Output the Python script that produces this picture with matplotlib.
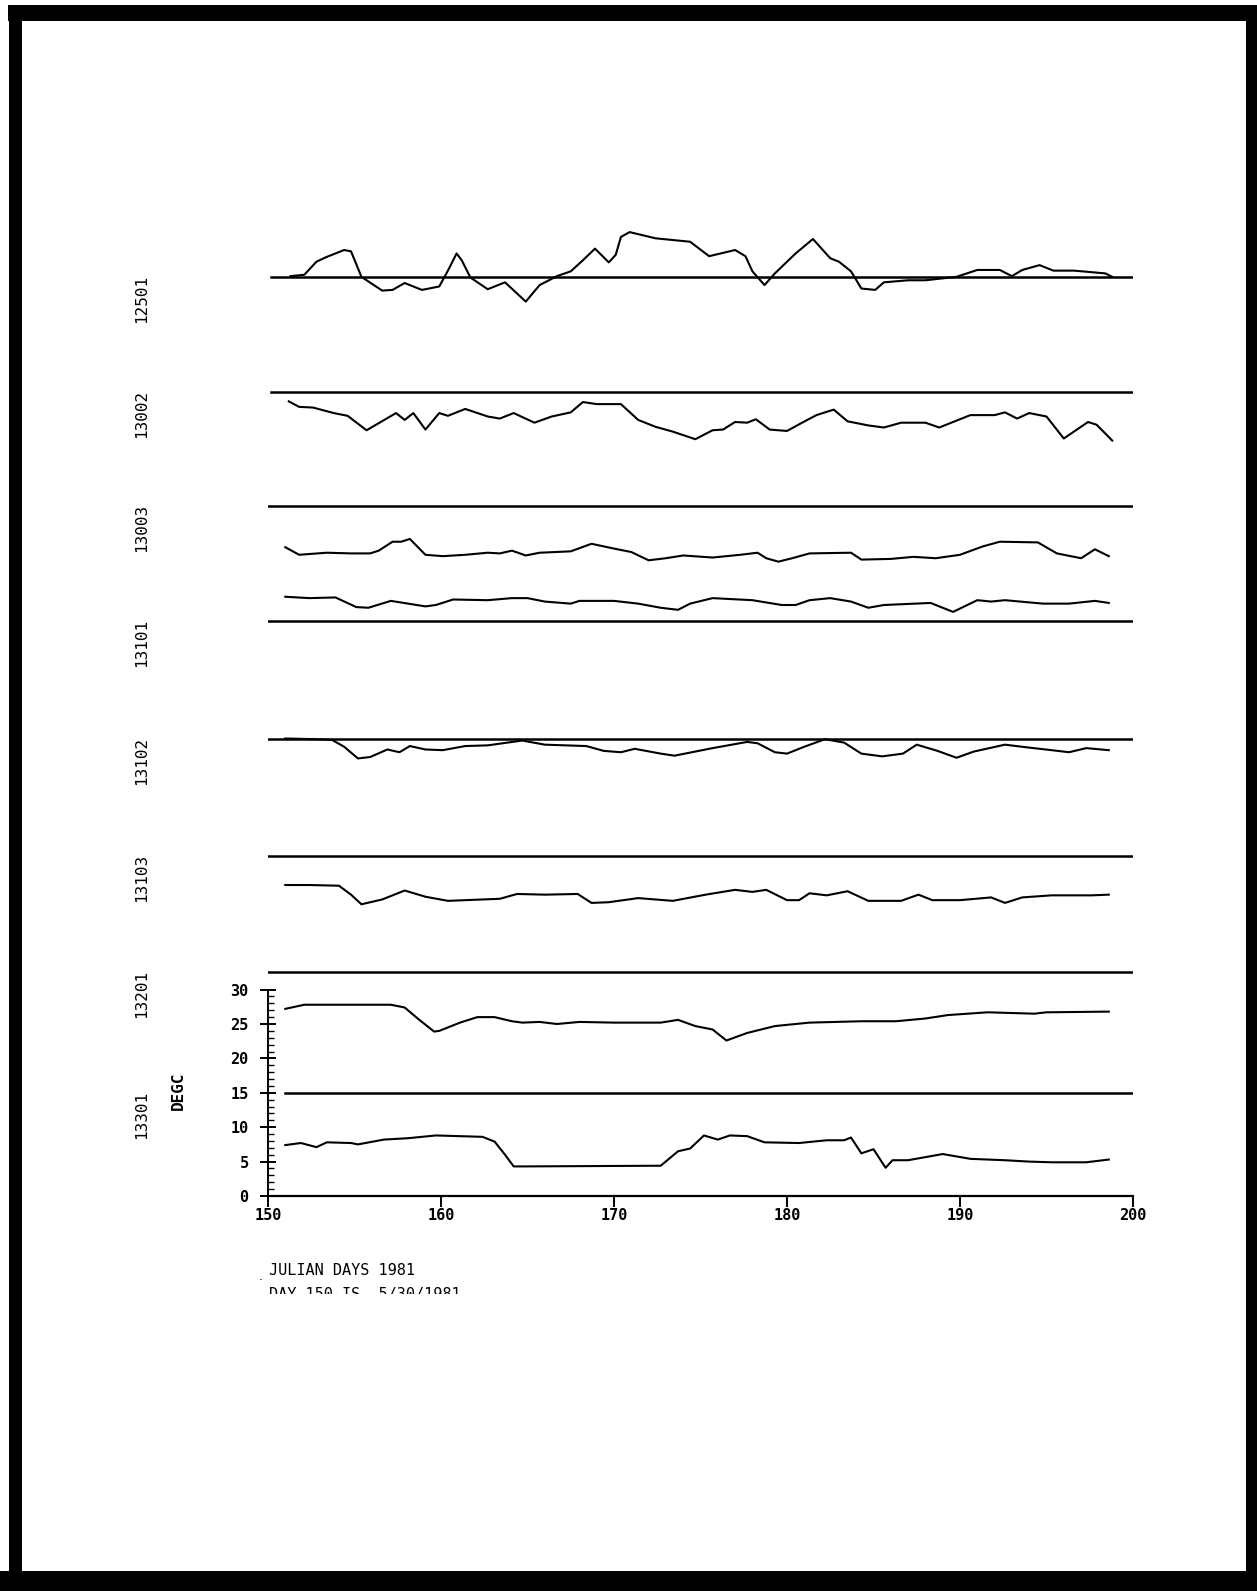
import numpy as np
import matplotlib.pyplot as plt
from matplotlib.patches import Rectangle
from matplotlib.transforms import blended_transform_factory

# station names, top to bottom, and the level of each reference line (DEGC axis units)
stations = ["12501", "13002", "13003", "13101", "13102", "13103", "13201", "13301"]
ref_levels = [133.6, 116.9, 100.3, 83.6, 66.4, 49.4, 32.5, 15.0]
ref_start = [150.2, 150.2, 149.9, 149.9, 150.0, 150.0, 150.0, 151.0]

days_12501 = [151.3, 152.1, 152.8, 153.4, 154.4, 154.8, 155.4, 156.6, 157.2, 157.9, 158.9, 159.9,
              160.4, 160.9, 161.2, 161.7, 162.7, 163.7, 164.9, 165.7, 166.7, 167.5, 168.2, 168.9,
              169.7, 170.1, 170.4, 170.9, 172.4, 174.4, 175.5, 177.0, 177.6, 178.0, 178.7, 179.3,
              180.5, 181.5, 182.5, 183.0, 183.7, 184.3, 185.1, 185.6, 187.0, 188.0, 189.8, 191.0,
              192.3, 193.0, 193.6, 194.6, 195.4, 196.6, 198.4, 198.8]
temp_12501 = [133.7, 133.9, 135.8, 136.5, 137.5, 137.3, 133.6, 131.6, 131.7, 132.7, 131.7, 132.2,
              134.5, 137.0, 136.0, 133.5, 131.8, 132.8, 130.0, 132.4, 133.7, 134.4, 136.0, 137.7,
              135.7, 136.8, 139.4, 140.1, 139.2, 138.7, 136.6, 137.5, 136.6, 134.4, 132.4, 134.1,
              137.0, 139.1, 136.3, 135.8, 134.4, 131.9, 131.7, 132.8, 133.1, 133.1, 133.6, 134.6,
              134.6, 133.7, 134.6, 135.3, 134.5, 134.5, 134.1, 133.6]

days_13002 = [151.2, 151.8, 152.6, 153.8, 154.6, 155.7, 157.4, 157.9, 158.4, 159.1, 159.9, 160.4,
              161.4, 162.7, 163.4, 164.2, 165.4, 166.4, 167.5, 168.2, 169.0, 170.4, 171.4, 172.4,
              173.4, 174.7, 175.7, 176.3, 177.0, 177.7, 178.2, 179.0, 180.0, 180.8, 181.7, 182.7,
              183.5, 184.7, 185.6, 186.6, 188.0, 188.8, 190.6, 192.0, 192.6, 193.3, 194.0, 195.0,
              196.0, 197.4, 197.9, 198.8]
temp_13002 = [115.5, 114.7, 114.6, 113.8, 113.4, 111.3, 113.8, 112.8, 113.8, 111.4, 113.8, 113.4,
              114.4, 113.3, 113.0, 113.8, 112.4, 113.3, 113.9, 115.4, 115.1, 115.1, 112.8, 111.8,
              111.1, 110.0, 111.3, 111.4, 112.5, 112.4, 112.9, 111.4, 111.2, 112.3, 113.5, 114.3,
              112.6, 112.0, 111.7, 112.4, 112.4, 111.7, 113.5, 113.5, 113.9, 113.0, 113.8, 113.3,
              110.1, 112.5, 112.1, 109.8]

days_13003 = [151.0, 151.8, 153.4, 154.8, 155.9, 156.4, 157.2, 157.7, 158.2, 159.1, 160.1, 161.4,
              162.7, 163.4, 164.1, 164.9, 165.7, 167.5, 168.7, 170.0, 171.0, 172.0, 173.0, 174.0,
              175.7, 177.3, 178.3, 178.8, 179.5, 180.3, 181.3, 183.7, 184.3, 186.0, 187.3, 188.6,
              190.0, 191.3, 192.3, 194.5, 195.6, 197.0, 197.8, 198.6]
temp_13003 = [94.3, 93.2, 93.5, 93.4, 93.4, 93.8, 95.1, 95.1, 95.5, 93.2, 93.0, 93.2,
              93.5, 93.4, 93.8, 93.1, 93.5, 93.7, 94.8, 94.1, 93.6, 92.4, 92.7, 93.1,
              92.8, 93.2, 93.5, 92.7, 92.2, 92.7, 93.4, 93.5, 92.5, 92.6, 92.9, 92.7,
              93.2, 94.4, 95.1, 95.0, 93.4, 92.7, 94.0, 93.0]

days_13101 = [151.0, 152.4, 153.9, 155.1, 155.8, 157.1, 158.1, 159.1, 159.7, 160.7, 162.7, 164.1,
              165.0, 166.0, 167.5, 168.0, 170.0, 171.4, 172.7, 173.7, 174.4, 175.7, 178.0, 179.7,
              180.5, 181.3, 182.5, 183.7, 184.7, 185.6, 188.3, 188.8, 189.6, 191.0, 191.8, 192.6,
              194.8, 196.3, 197.8, 198.6]
temp_13101 = [87.1, 86.9, 87.0, 85.6, 85.5, 86.5, 86.1, 85.7, 85.9, 86.7, 86.6, 86.9,
              86.9, 86.4, 86.1, 86.5, 86.5, 86.1, 85.5, 85.2, 86.1, 86.9, 86.6, 85.9,
              85.9, 86.6, 86.9, 86.4, 85.5, 85.9, 86.2, 85.7, 84.9, 86.6, 86.4, 86.6,
              86.1, 86.1, 86.5, 86.2]

days_13102 = [151.0, 152.7, 153.7, 154.4, 155.2, 155.9, 156.9, 157.6, 158.2, 159.1, 160.1, 161.4,
              162.7, 164.7, 166.0, 168.4, 169.4, 170.4, 171.2, 172.7, 173.5, 174.7, 175.7, 177.7,
              178.3, 179.3, 180.0, 181.0, 182.2, 183.3, 184.3, 185.5, 186.7, 187.5, 188.7, 189.8,
              190.8, 192.6, 193.9, 195.3, 196.3, 197.3, 198.6]
temp_13102 = [66.5, 66.4, 66.3, 65.3, 63.6, 63.8, 64.9, 64.5, 65.4, 64.9, 64.8, 65.4,
              65.5, 66.2, 65.6, 65.4, 64.7, 64.5, 65.0, 64.3, 64.0, 64.6, 65.1, 66.0,
              65.8, 64.5, 64.3, 65.3, 66.4, 65.9, 64.3, 63.9, 64.3, 65.6, 64.7, 63.7,
              64.6, 65.6, 65.2, 64.8, 64.5, 65.1, 64.8]

days_13103 = [151.0, 152.4, 154.1, 154.8, 155.4, 156.6, 157.9, 159.1, 160.4, 163.4, 164.4, 166.0,
              167.9, 168.7, 169.7, 171.4, 173.4, 175.3, 177.0, 178.0, 178.8, 180.0, 180.7, 181.3,
              182.3, 183.5, 184.7, 186.6, 187.6, 188.4, 190.0, 191.8, 192.6, 193.6, 195.3, 197.6,
              198.6]
temp_13103 = [45.2, 45.2, 45.1, 43.8, 42.4, 43.1, 44.4, 43.5, 42.9, 43.2, 43.9, 43.8,
              43.9, 42.6, 42.7, 43.3, 42.9, 43.8, 44.5, 44.2, 44.5, 43.0, 43.0, 44.0,
              43.7, 44.3, 42.9, 42.9, 43.8, 43.0, 43.0, 43.4, 42.6, 43.4, 43.7, 43.7,
              43.8]

days_13201 = [151.0, 152.1, 157.1, 157.9, 158.7, 159.6, 159.9, 161.1, 162.1, 163.1, 164.1, 164.7,
              165.7, 166.7, 168.0, 170.0, 172.7, 173.7, 174.7, 175.7, 176.5, 177.7, 179.3, 181.3,
              184.3, 186.3, 188.0, 189.3, 191.6, 194.3, 195.0, 198.6]
temp_13201 = [27.2, 27.8, 27.8, 27.4, 25.7, 23.9, 24.0, 25.2, 26.0, 26.0, 25.4, 25.2,
              25.3, 25.0, 25.3, 25.2, 25.2, 25.6, 24.7, 24.2, 22.6, 23.7, 24.7, 25.2,
              25.4, 25.4, 25.8, 26.3, 26.7, 26.5, 26.7, 26.8]

days_13301 = [151.0, 151.9, 152.8, 153.4, 154.8, 155.2, 156.7, 158.1, 159.7, 162.4, 163.1, 163.7,
              164.2, 164.7, 172.7, 173.7, 174.4, 175.2, 176.0, 176.7, 177.7, 178.7, 180.7, 182.3,
              183.3, 183.7, 184.3, 185.0, 185.7, 186.1, 187.0, 189.0, 190.6, 192.6, 194.0, 195.3,
              197.3, 198.6]
temp_13301 = [7.4, 7.7, 7.1, 7.8, 7.7, 7.5, 8.2, 8.4, 8.8, 8.6, 7.9, 6.0,
              4.3, 4.3, 4.4, 6.5, 6.9, 8.8, 8.2, 8.8, 8.7, 7.8, 7.7, 8.1,
              8.1, 8.5, 6.2, 6.8, 4.1, 5.2, 5.2, 6.1, 5.4, 5.2, 5.0, 4.9,
              4.9, 5.3]

series_days = [days_12501, days_13002, days_13003, days_13101,
               days_13102, days_13103, days_13201, days_13301]
series_temp = [temp_12501, temp_13002, temp_13003, temp_13101,
               temp_13102, temp_13103, temp_13201, temp_13301]

x_ticks = [150, 160, 170, 180, 190, 200]
y_ticks = [0, 5, 10, 15, 20, 25, 30]


def main():
    W, H = 1257, 1591
    fig = plt.figure(figsize=(W / 100, H / 100), dpi=100)
    fig.patch.set_facecolor("white")

    # axes placed so that 150..200 spans px 268..1133 and 0..30 spans px 1196..989
    ymax = 145.0
    px_per_unit = 6.88
    ax = fig.add_axes([268 / W, (H - 1196) / H, (1133 - 268) / W, ymax * px_per_unit / H])
    ax.set_xlim(150, 200)
    ax.set_ylim(0, ymax)

    for d, t in zip(series_days, series_temp):
        ax.plot(d, t, color="black", lw=1.5, solid_joinstyle="round")

    for lev, x0 in zip(ref_levels, ref_start):
        ax.plot([x0, 200], [lev, lev], color="black", lw=1.8)

    ax.spines["top"].set_visible(False)
    ax.spines["right"].set_visible(False)
    ax.spines["left"].set_bounds(0, 30)
    ax.spines["bottom"].set_bounds(150, 200)
    ax.spines["left"].set_linewidth(1.4)
    ax.spines["bottom"].set_linewidth(1.6)

    mono = "DejaVu Sans Mono"
    ax.set_xticks(x_ticks)
    ax.set_xticklabels([str(v) for v in x_ticks], family=mono, weight="bold", fontsize=11)
    ax.set_yticks(y_ticks)
    ax.set_yticklabels([str(v) for v in y_ticks], family=mono, weight="bold", fontsize=11)
    ax.set_yticks(np.arange(0, 31, 1), minor=True)
    ax.tick_params(axis="x", direction="out", length=8, width=1.4, pad=1)
    ax.tick_params(axis="y", which="major", direction="inout", length=12, width=1.4, pad=8)
    ax.tick_params(axis="y", which="minor", direction="in", length=4, width=1.0)

    # station labels at the far left, reading upward
    trans = blended_transform_factory(fig.transFigure, ax.transData)
    for name, lev in zip(stations, ref_levels):
        ax.text(142 / W, lev - 3.2, name, transform=trans, rotation=90,
                ha="center", va="center", family=mono, fontsize=11.5, clip_on=False)

    fig.text(178 / W, 1 - 1091 / H, "DEGC", rotation=90, ha="center", va="center",
             family=mono, weight="bold", fontsize=11.5)

    fig.text(269 / W, 1 - 1263 / H, "JULIAN DAYS 1981", ha="left", va="top",
             family=mono, fontsize=11)
    # second line is cut off at the bottom of the scanned plot
    cut = fig.text(269 / W, 1 - 1287 / H, "DAY 150 IS  5/30/1981", ha="left", va="top",
                   family=mono, fontsize=11)
    clip = Rectangle((0, 1 - 1294 / H), 1, 0.05, transform=fig.transFigure,
                     facecolor="none", edgecolor="none")
    fig.add_artist(clip)
    cut.set_clip_path(clip)
    fig.text(261 / W, 1 - 1276 / H, ".", ha="center", va="center", fontsize=9)

    # thick black frame of the scanned page
    for x0, y0, x1, y1 in [(8, 5, W, 21), (9, 5, 22, 1591), (1246, 5, W, H), (0, 1571, W, H)]:
        fig.add_artist(Rectangle((x0 / W, 1 - y1 / H), (x1 - x0) / W, (y1 - y0) / H,
                                 transform=fig.transFigure, facecolor="black",
                                 edgecolor="none"))

    fig.savefig("out.png", dpi=100, facecolor="white")


if __name__ == "__main__":
    main()
